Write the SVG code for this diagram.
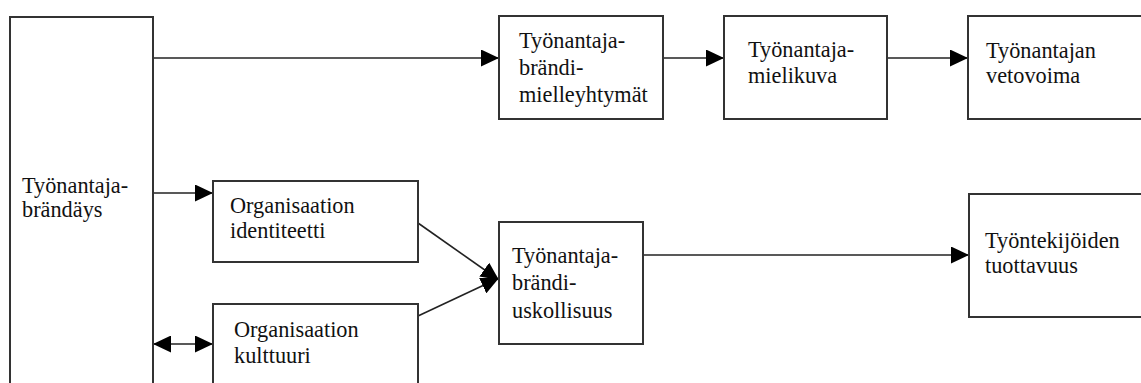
<svg xmlns="http://www.w3.org/2000/svg" width="1141" height="383" viewBox="0 0 1141 383">
<style>
.box{fill:#fff;stroke:#333;stroke-width:2}
.t{font-family:"Liberation Serif","Times New Roman",serif;font-size:22.3px;fill:#111}
.c{fill:none;stroke:#222;stroke-width:1.6}
</style>
<defs>
<marker id="ah" viewBox="0 0 10 10" refX="10" refY="5" markerUnits="userSpaceOnUse" markerWidth="18" markerHeight="17" orient="auto-start-reverse" preserveAspectRatio="none">
<path d="M0,0 L10,5 L0,10 z" fill="#000"/>
</marker>
</defs>
<rect width="1141" height="383" fill="#fff"/>
<g id="connectors">
<line class="c" x1="153" y1="58" x2="499" y2="58" marker-end="url(#ah)"/>
<line class="c" x1="663" y1="58" x2="724" y2="58" marker-end="url(#ah)"/>
<line class="c" x1="887" y1="58" x2="968" y2="58" marker-end="url(#ah)"/>
<line class="c" x1="153" y1="193" x2="213" y2="193" marker-end="url(#ah)"/>
<line class="c" x1="153" y1="344" x2="213" y2="344" marker-start="url(#ah)" marker-end="url(#ah)"/>
<line class="c" x1="418" y1="223" x2="499" y2="280" marker-end="url(#ah)"/>
<line class="c" x1="418" y1="316" x2="499" y2="278" marker-end="url(#ah)"/>
<line class="c" x1="643" y1="255" x2="969" y2="255" marker-end="url(#ah)"/>
</g>
<g id="n-brandays">
<rect class="box" x="10" y="17" width="143" height="380"/>
<text class="t" x="22" y="193">Työnantaja-</text>
<text class="t" x="22" y="217">brändäys</text>
</g>
<g id="n-mielleyhtymat">
<rect class="box" x="499" y="16" width="164" height="103"/>
<text class="t" x="519" y="48">Työnantaja-</text>
<text class="t" x="519" y="75">brändi-</text>
<text class="t" x="519" y="102">mielleyhtymät</text>
</g>
<g id="n-mielikuva">
<rect class="box" x="724" y="16" width="163" height="103"/>
<text class="t" x="748" y="57">Työnantaja-</text>
<text class="t" x="748" y="83">mielikuva</text>
</g>
<g id="n-vetovoima">
<rect class="box" x="968" y="16" width="180" height="103"/>
<text class="t" x="986" y="58">Työnantajan</text>
<text class="t" x="986" y="83">vetovoima</text>
</g>
<g id="n-identiteetti">
<rect class="box" x="213" y="181" width="205" height="81"/>
<text class="t" x="230" y="213">Organisaation</text>
<text class="t" x="230" y="238">identiteetti</text>
</g>
<g id="n-kulttuuri">
<rect class="box" x="213" y="304" width="205" height="95"/>
<text class="t" x="234" y="337">Organisaation</text>
<text class="t" x="234" y="363">kulttuuri</text>
</g>
<g id="n-uskollisuus">
<rect class="box" x="499" y="222" width="144" height="122"/>
<text class="t" x="512" y="263">Työnantaja-</text>
<text class="t" x="512" y="290">brändi-</text>
<text class="t" x="512" y="318">uskollisuus</text>
</g>
<g id="n-tuottavuus">
<rect class="box" x="969" y="194" width="180" height="123"/>
<text class="t" x="985" y="248">Työntekijöiden</text>
<text class="t" x="985" y="273">tuottavuus</text>
</g>
</svg>
